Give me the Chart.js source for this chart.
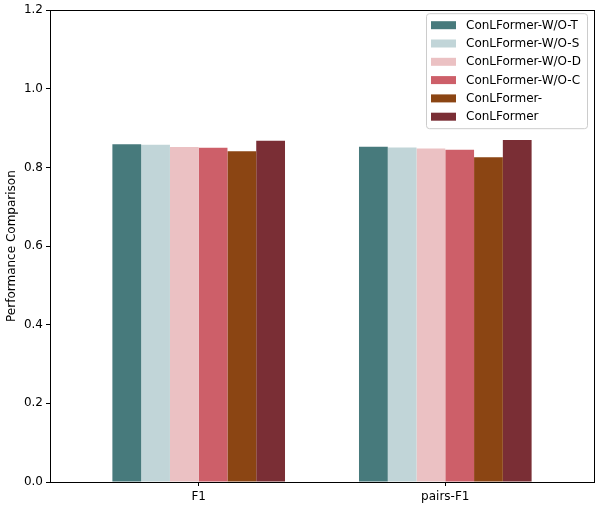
<!DOCTYPE html>
<html>
<head>
<meta charset="utf-8">
<script src="https://cdn.jsdelivr.net/npm/chart.js@4.4.1/dist/chart.umd.min.js"></script>
<style>
  html, body { margin: 0; padding: 0; background: #fff; }
  #wrap { width: 600px; height: 508px; position: relative; }
</style>
</head>
<body>
<div id="wrap"><canvas id="chart"></canvas></div>
<script>
const categories = ["F1", "pairs-F1"];
const models = ["ConLFormer-W/O-T", "ConLFormer-W/O-S", "ConLFormer-W/O-D", "ConLFormer-W/O-C", "ConLFormer-", "ConLFormer"];
const woT = [0.859, 0.853];
const woS = [0.858, 0.851];
const woD = [0.852, 0.848];
const woC = [0.850, 0.845];
const partial = [0.841, 0.826];
const full = [0.868, 0.870];
const colors = ["#477a7c", "#c1d5d8", "#ebc1c3", "#cd5f69", "#8b4513", "#7a2e35"];
const yTicks = [0, 0.2, 0.4, 0.6, 0.8, 1.0, 1.2];

const series = [woT, woS, woD, woC, partial, full];

Chart.defaults.font.family = "'DejaVu Sans', sans-serif";
Chart.defaults.font.size = 12;
Chart.defaults.color = "#000";

// matplotlib-style box around the plot and legend inside it
const framePlugin = {
  id: "frame",
  afterDraw(chart) {
    const { ctx, chartArea: a } = chart;
    ctx.save();
    ctx.strokeStyle = "#000";
    ctx.lineWidth = 1;
    ctx.strokeRect(Math.round(a.left) + 0.5, Math.round(a.top) + 0.5, Math.round(a.right - a.left), Math.round(a.bottom - a.top));

    const rowH = 18.3;
    const boxW = 161, boxH = 115;
    const x0 = a.right - 7 - boxW, y0 = a.top + 3;
    ctx.fillStyle = "rgba(255,255,255,0.8)";
    ctx.strokeStyle = "#cccccc";
    ctx.beginPath();
    ctx.roundRect(x0 + 0.5, y0 + 0.5, boxW, boxH, 3);
    ctx.fill();
    ctx.stroke();
    ctx.font = "12px 'DejaVu Sans', sans-serif";
    ctx.textBaseline = "middle";
    chart.data.datasets.forEach((ds, i) => {
      const cy = y0 + 12 + i * rowH;
      ctx.fillStyle = ds.backgroundColor;
      ctx.fillRect(x0 + 5, cy - 4, 25, 8);
      ctx.fillStyle = "#000";
      ctx.fillText(ds.label, x0 + 40, cy + 0.5);
    });
    ctx.restore();
  },
};

new Chart(document.getElementById("chart"), {
  type: "bar",
  data: {
    datasets: series.map((vals, i) => ({
      label: models[i],
      data: vals.map((v, j) => ({ x: j, y: v })),
      backgroundColor: colors[i],
      borderWidth: 0,
      categoryPercentage: 0.7,
      barPercentage: 1.0,
    })),
  },
  options: {
    responsive: true,
    maintainAspectRatio: false,
    animation: false,
    layout: { padding: { top: 10, right: 6, left: 0, bottom: 0 } },
    plugins: { legend: { display: false }, tooltip: { enabled: false } },
    scales: {
      x: {
        type: "linear",
        min: -0.603,
        max: 1.603,
        offset: false,
        grid: { drawOnChartArea: false, offset: false, tickLength: 4, tickColor: "#000" },
        border: { color: "#000" },
        afterBuildTicks: (scale) => { scale.ticks = categories.map((c, i) => ({ value: i })); },
        ticks: { callback: (v) => categories[v], padding: 4, maxRotation: 0 },
        afterFit: (scale) => { scale.height = 26; },
      },
      y: {
        min: 0,
        max: 1.2,
        grid: { drawOnChartArea: false, tickLength: 4, tickColor: "#000" },
        border: { color: "#000" },
        afterBuildTicks: (scale) => { scale.ticks = yTicks.map((v) => ({ value: v })); },
        ticks: { callback: (v) => v.toFixed(1), padding: 3 },
        title: { display: true, text: "Performance Comparison", padding: { top: 5, bottom: 4 } },
        afterFit: (scale) => { scale.width = 50; },
      },
    },
  },
  plugins: [framePlugin],
});
</script>
</body>
</html>
